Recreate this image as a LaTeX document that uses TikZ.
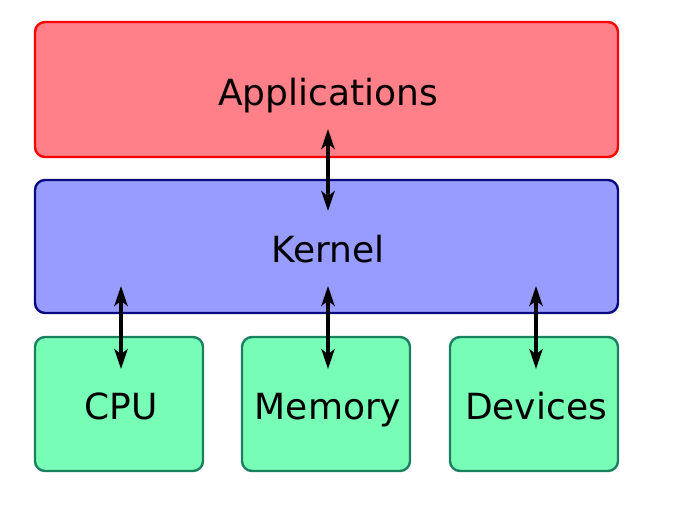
\documentclass[tikz,border=0pt]{standalone}
\usepackage{fontspec}
\setmainfont{DejaVu Sans}
\usetikzlibrary{arrows.meta}
\definecolor{appfill}{HTML}{FF8088}
\definecolor{appdraw}{HTML}{FF0000}
\definecolor{kerfill}{HTML}{999CFF}
\definecolor{kerdraw}{HTML}{0A0A80}
\definecolor{hwfill}{HTML}{78FDB6}
\definecolor{hwdraw}{HTML}{1A8060}
\begin{document}
\begin{tikzpicture}[x=0.75pt,y=-0.75pt,
  layer/.style={rounded corners=7.5pt,line width=1.8pt},
  lbl/.style={font=\fontsize{27}{30}\selectfont,inner sep=0pt,anchor=base},
  link/.style={line width=2.4pt,{Stealth[length=15pt,width=10pt,inset=4pt]}-{Stealth[length=15pt,width=10pt,inset=4pt]}}]
\useasboundingbox (0,0) rectangle (679,508);
\draw[layer,fill=appfill,draw=appdraw] (35,22) rectangle (618,157);
\draw[layer,fill=kerfill,draw=kerdraw] (35,180) rectangle (618,313);
\draw[layer,fill=hwfill,draw=hwdraw] (35,337) rectangle (203,471);
\draw[layer,fill=hwfill,draw=hwdraw] (242,337) rectangle (410,471);
\draw[layer,fill=hwfill,draw=hwdraw] (450,337) rectangle (618,471);
\node[lbl] (app) at (328,105) {Applications};
\node[lbl] (ker) at (328,262) {Kernel};
\node[lbl] (cpu) at (121,419) {CPU};
\node[lbl] (mem) at (328,419) {Memory};
\node[lbl] (dev) at (536,419) {Devices};
\coordinate (a1) at (328,129);
\coordinate (a2) at (328,211);
\coordinate (c1) at (121,286);
\coordinate (c2) at (121,369);
\coordinate (m1) at (328,286);
\coordinate (m2) at (328,369);
\coordinate (d1) at (536,286);
\coordinate (d2) at (536,369);
\draw[link] (a1) -- (a2);
\draw[link] (c1) -- (c2);
\draw[link] (m1) -- (m2);
\draw[link] (d1) -- (d2);
\end{tikzpicture}
\end{document}
